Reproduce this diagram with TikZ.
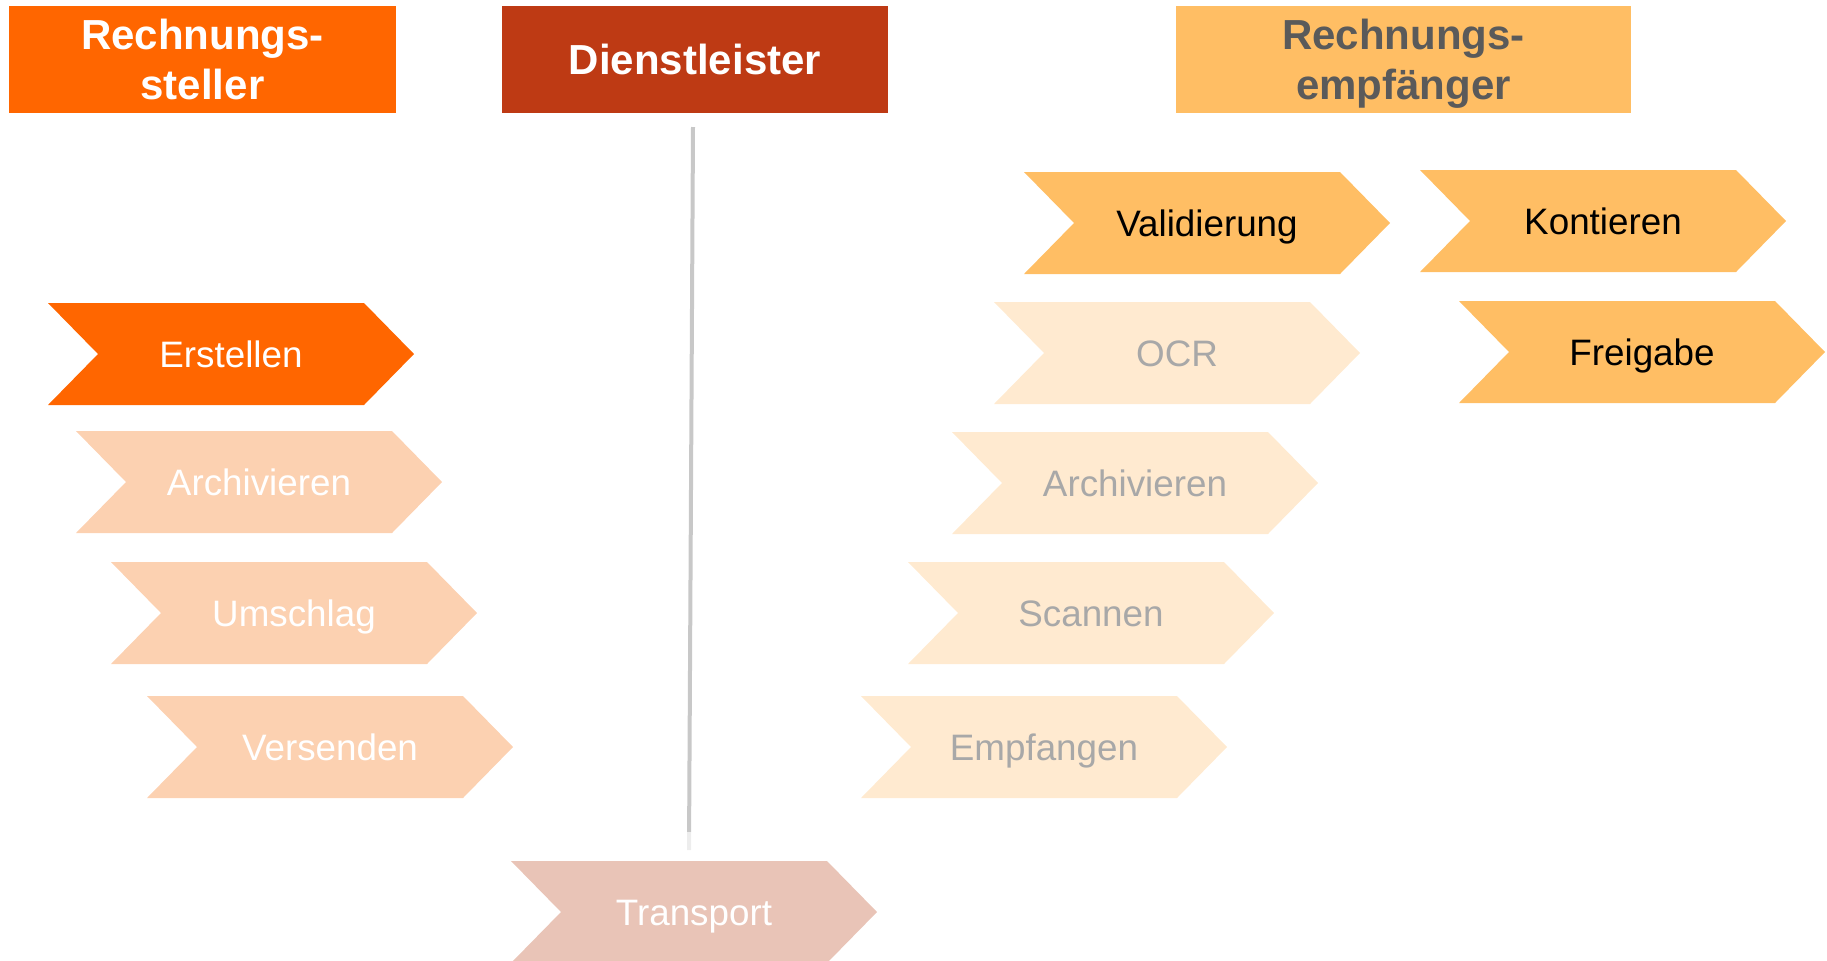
\documentclass[tikz,border=0pt]{standalone}
\usepackage{fontspec}
\setmainfont{Liberation Sans}
\definecolor{senderOrange}{HTML}{FF6600}
\definecolor{providerRed}{HTML}{BE3A14}
\definecolor{receiverGold}{HTML}{FFBE64}
\definecolor{senderPale}{HTML}{FCD1B1}
\definecolor{providerPale}{HTML}{E9C4B7}
\definecolor{receiverPale}{HTML}{FFEAD0}
\definecolor{headGray}{HTML}{5A5A5A}
\definecolor{paleText}{HTML}{A8A8A8}
\definecolor{lineGray}{HTML}{C8C8C8}
\definecolor{lineFade}{HTML}{EDEDED}

% chevron: #1 name, #2 left x, #3 top y, #4 fill style, #5 text style, #6 label
\newcommand\chevron[6]{%
  \fill[#4] (#2,#3) -- ++(316,0) -- ++(50,51) -- ++(-50,51) -- ++(-316,0) -- ++(50,-51) -- cycle;
  \node[steptext,#5] (#1) at (#2+183,#3+51) {#6};
}

\begin{document}
\begin{tikzpicture}[x=0.5pt,y=-0.5pt,
  header/.style={rectangle, inner sep=0pt, minimum height=53.5pt, align=center,
    font=\fontsize{21}{25}\selectfont\bfseries, text depth=0pt},
  oneline/.style={text height=15pt},
  twoline/.style={text height=39.8pt},
  steptext/.style={inner sep=0pt, font=\fontsize{18.4}{22}\selectfont,
    text height=13.2pt, text depth=0pt},
  hotfill/.style={fill=senderOrange},
  senderfill/.style={fill=senderPale},
  providerfill/.style={fill=providerPale},
  receiverfill/.style={fill=receiverPale},
  goldfill/.style={fill=receiverGold},
  whitetext/.style={text=white},
  paletext/.style={text=paleText},
  darktext/.style={text=black}]

\useasboundingbox (0,0) rectangle (1827,960);

% column headers
\node[header, twoline, fill=senderOrange, text=white, minimum width=193.5pt] (hSender) at (202.5,59.5) {Rechnungs-\\steller};
\node[header, oneline, fill=providerRed, text=white, minimum width=193pt] (hProvider) at (695,59.5) {Dienstleister};
\node[header, twoline, fill=receiverGold, text=headGray, minimum width=227.5pt] (hReceiver) at (1403.5,59.5) {Rechnungs-\\empfänger};

% sender steps
\chevron{erstellen}{48}{303}{hotfill}{whitetext}{Erstellen}
\chevron{archivS}{76}{431}{senderfill}{whitetext}{Archivieren}
\chevron{umschlag}{111}{562}{senderfill}{whitetext}{Umschlag}
\chevron{versenden}{147}{696}{senderfill}{whitetext}{Versenden}

% service provider
\chevron{transport}{511}{861}{providerfill}{whitetext}{Transport}

% receiver steps
\chevron{validierung}{1024}{172}{goldfill}{darktext}{Validierung}
\chevron{kontieren}{1420}{170}{goldfill}{darktext}{Kontieren}
\chevron{ocr}{994}{302}{receiverfill}{paletext}{OCR}
\chevron{freigabe}{1459}{301}{goldfill}{darktext}{Freigabe}
\chevron{archivE}{952}{432}{receiverfill}{paletext}{Archivieren}
\chevron{scannen}{908}{562}{receiverfill}{paletext}{Scannen}
\chevron{empfangen}{861}{696}{receiverfill}{paletext}{Empfangen}

% provider timeline from header down to the transport step
\coordinate (lineTop) at (693,127);
\coordinate (lineMid) at (689.1,832);
\coordinate (lineEnd) at (689,850);
\draw[lineGray, line width=2pt] (lineTop) -- (lineMid);
\draw[lineFade, line width=2pt] (lineMid) -- (lineEnd);
\end{tikzpicture}
\end{document}
